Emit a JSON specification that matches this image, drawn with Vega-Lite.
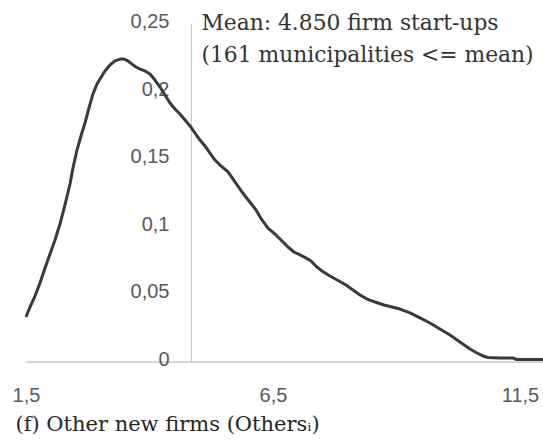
{
  "$schema": "https://vega.github.io/schema/vega-lite/v6.json",
  "autosize": "none",
  "width": 517,
  "height": 338,
  "padding": {"left": 26, "top": 23.5, "right": 0, "bottom": 79.5},
  "background": "white",
  "config": {"view": {"stroke": null}},
  "layer": [
    {
      "data": {"values": [
        {"x": 1.5, "y": 0.0329}, {"x": 1.581, "y": 0.0403}, {"x": 1.682, "y": 0.0484}, {"x": 1.783, "y": 0.0581},
        {"x": 1.885, "y": 0.0692}, {"x": 1.986, "y": 0.0795}, {"x": 2.087, "y": 0.0899}, {"x": 2.188, "y": 0.1017},
        {"x": 2.289, "y": 0.1158}, {"x": 2.391, "y": 0.1313}, {"x": 2.451, "y": 0.1431}, {"x": 2.532, "y": 0.1564},
        {"x": 2.613, "y": 0.1668}, {"x": 2.694, "y": 0.1764}, {"x": 2.775, "y": 0.1875}, {"x": 2.856, "y": 0.1979},
        {"x": 2.937, "y": 0.2053}, {"x": 2.998, "y": 0.2089}, {"x": 3.099, "y": 0.2149}, {"x": 3.2, "y": 0.2193},
        {"x": 3.302, "y": 0.2223}, {"x": 3.403, "y": 0.2237}, {"x": 3.484, "y": 0.2237}, {"x": 3.565, "y": 0.2223},
        {"x": 3.646, "y": 0.22}, {"x": 3.727, "y": 0.2178}, {"x": 3.808, "y": 0.2163}, {"x": 3.909, "y": 0.2149},
        {"x": 4.01, "y": 0.2127}, {"x": 4.111, "y": 0.2082}, {"x": 4.213, "y": 0.203}, {"x": 4.314, "y": 0.1971},
        {"x": 4.415, "y": 0.1912}, {"x": 4.516, "y": 0.1868}, {"x": 4.617, "y": 0.1831}, {"x": 4.719, "y": 0.1786},
        {"x": 4.82, "y": 0.1742}, {"x": 4.921, "y": 0.169}, {"x": 5.022, "y": 0.1638}, {"x": 5.123, "y": 0.1594},
        {"x": 5.225, "y": 0.1542}, {"x": 5.326, "y": 0.149}, {"x": 5.427, "y": 0.1453}, {"x": 5.589, "y": 0.1402},
        {"x": 5.731, "y": 0.1328}, {"x": 5.872, "y": 0.1254}, {"x": 6.014, "y": 0.1187}, {"x": 6.156, "y": 0.1121},
        {"x": 6.277, "y": 0.1047}, {"x": 6.399, "y": 0.0987}, {"x": 6.54, "y": 0.0943}, {"x": 6.682, "y": 0.0891},
        {"x": 6.804, "y": 0.0847}, {"x": 6.925, "y": 0.081}, {"x": 7.047, "y": 0.0788}, {"x": 7.168, "y": 0.0766},
        {"x": 7.269, "y": 0.0743}, {"x": 7.37, "y": 0.0706}, {"x": 7.492, "y": 0.0669}, {"x": 7.654, "y": 0.0632},
        {"x": 7.836, "y": 0.0595}, {"x": 7.978, "y": 0.0566}, {"x": 8.119, "y": 0.0529}, {"x": 8.261, "y": 0.0492},
        {"x": 8.403, "y": 0.0462}, {"x": 8.565, "y": 0.044}, {"x": 8.747, "y": 0.0418}, {"x": 8.909, "y": 0.0403},
        {"x": 9.071, "y": 0.0388}, {"x": 9.273, "y": 0.0359}, {"x": 9.476, "y": 0.0322}, {"x": 9.678, "y": 0.0285},
        {"x": 9.881, "y": 0.024}, {"x": 10.083, "y": 0.0196}, {"x": 10.285, "y": 0.0144}, {"x": 10.488, "y": 0.0092},
        {"x": 10.63, "y": 0.0063}, {"x": 10.751, "y": 0.0041}, {"x": 10.852, "y": 0.003}, {"x": 11.095, "y": 0.0026},
        {"x": 11.358, "y": 0.0026}, {"x": 11.439, "y": 0.0015}, {"x": 11.702, "y": 0.0015}, {"x": 11.966, "y": 0.0015}
      ]},
      "mark": {"type": "line", "color": "#3a3a3a", "strokeWidth": 3, "strokeJoin": "round"},
      "encoding": {
        "x": {
          "field": "x", "type": "quantitative",
          "scale": {"domain": [1.5, 11.966], "nice": false, "zero": false},
          "axis": {
            "values": [1.5, 6.5, 11.5],
            "labelExpr": "replace(format(datum.value, '.1f'), '.', ',')",
            "grid": false, "ticks": false,
            "domainColor": "#c8c8c8", "domainWidth": 1.5,
            "labelFont": "Liberation Sans", "labelFontSize": 20, "labelColor": "#595959",
            "labelPadding": 24, "labelFlush": false,
            "title": "(f) Other new firms (Othersᵢ)",
            "titleFont": "DejaVu Serif", "titleFontSize": 21, "titleFontWeight": "normal",
            "titleColor": "#262626", "titleAnchor": "start", "titleAlign": "left",
            "titleBaseline": "alphabetic", "titleX": -11, "titleY": 69
          }
        },
        "y": {
          "field": "y", "type": "quantitative",
          "scale": {"domain": [0, 0.25], "nice": false},
          "axis": {
            "values": [0, 0.05, 0.1, 0.15, 0.2, 0.25],
            "labelExpr": "replace(format(datum.value, '.2~f'), '.', ',')",
            "grid": false, "ticks": false,
            "offset": -165,
            "domainColor": "#c8c8c8", "domainWidth": 1,
            "labelFont": "Liberation Sans", "labelFontSize": 20, "labelColor": "#595959",
            "labelPadding": 22, "labelOffset": -2,
            "title": null
          }
        }
      }
    },
    {
      "data": {"values": [{"label": "mean"}]},
      "mark": {
        "type": "text",
        "text": ["Mean: 4.850 firm start-ups", "(161 municipalities <= mean)"],
        "align": "left", "baseline": "alphabetic",
        "dx": 10, "dy": 6, "lineHeight": 32.5,
        "font": "DejaVu Serif", "fontSize": 21.8, "fontWeight": "normal", "fill": "#333333"
      },
      "encoding": {
        "x": {"datum": 4.85, "type": "quantitative"},
        "y": {"datum": 0.25, "type": "quantitative"}
      }
    }
  ]
}
